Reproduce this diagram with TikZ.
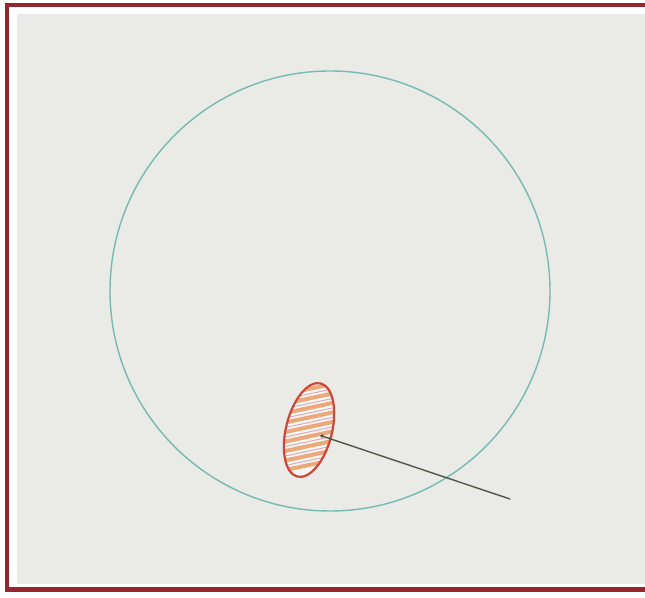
\documentclass[tikz,border=0pt]{standalone}
\usetikzlibrary{shapes.geometric,calc}
\definecolor{framered}{RGB}{152,36,46}
\definecolor{paper}{RGB}{234,234,230}
\definecolor{teal}{RGB}{118,186,178}
\definecolor{bloodred}{RGB}{205,70,55}
\definecolor{hatchor}{RGB}{235,155,100}
\definecolor{hatchpk}{RGB}{205,120,150}
\definecolor{pencil}{RGB}{85,85,70}
\tikzset{
  framebar/.style={framered,line width=4.5pt},
  bigcircle/.style={circle,draw=teal,line width=1.4pt,minimum size=440pt,inner sep=0pt},
  blob/.style={ellipse,draw=bloodred,line width=2.2pt,minimum width=46pt,minimum height=96pt,inner sep=0pt,rotate=-14},
  pointer/.style={draw=pencil,line width=1.4pt,line cap=round},
}
\begin{document}
\begin{tikzpicture}[x=1pt,y=1pt]
\useasboundingbox (0,0) rectangle (645,597);
\fill[white] (0,0) rectangle (645,597);
\fill[paper] (17,13) rectangle (645,583);
\draw[framebar] (7,7.5) -- (7,592) ;
\draw[framebar] (4.8,592) -- (645,592);
\draw[framebar] (4.8,7.5) -- (645,7.5);
% big circle
\node[bigcircle] (circ) at (330,306) {};
% hatched blob
\begin{scope}
  \clip (309,167) [rotate around={-14:(309,167)}] ellipse (22 and 47);
  \fill[white!60!paper] (250,100) rectangle (370,230);
  \foreach \k in {-5,...,5}{
    \draw[hatchor,line width=4pt,opacity=0.85,line cap=round] (250,167+\k*9.5) -- ++(12:130);
  }
  \foreach \k in {-5,...,5}{
    \draw[hatchpk,line width=1pt,opacity=0.6] (250,171.5+\k*9.5) -- ++(12:130);
  }
\end{scope}
\node[blob] (blob) at (309,167) {};
\coordinate (tip) at (322,161);
\coordinate (tail) at (510,98);
\draw[pointer] (tail) -- (tip);
\fill[pencil] (tip) circle (1.8);
\end{tikzpicture}
\end{document}
